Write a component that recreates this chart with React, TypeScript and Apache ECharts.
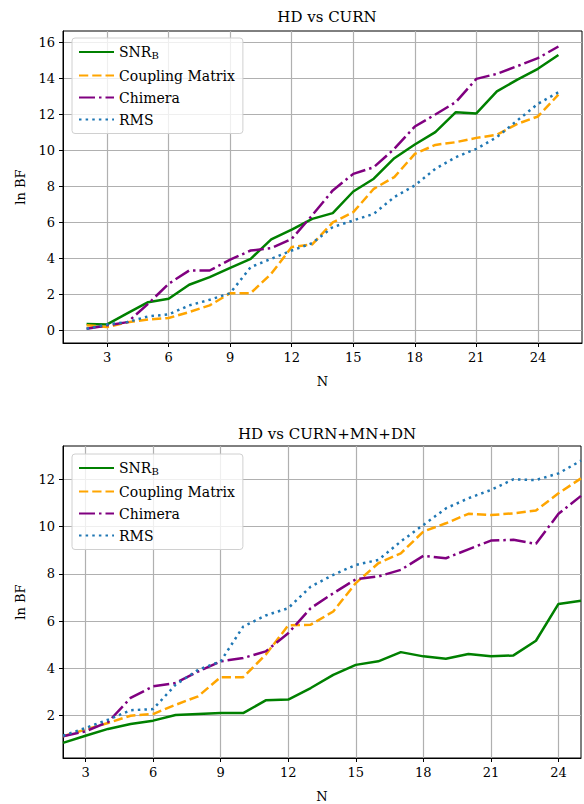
import React, { useEffect, useRef } from "react";
import * as echarts from "echarts";

const N = [2, 3, 4, 5, 6, 7, 8, 9, 10, 11, 12, 13, 14, 15, 16, 17, 18, 19, 20, 21, 22, 23, 24, 25];
const xTicks = [3, 6, 9, 12, 15, 18, 21, 24];
const yTicksTop = [0, 2, 4, 6, 8, 10, 12, 14, 16];
const yTicksBot = [2, 4, 6, 8, 10, 12];

const titleTop = "HD vs CURN";
const titleBot = "HD vs CURN+MN+DN";
const seriesNames = ["SNR_B", "Coupling Matrix", "Chimera", "RMS"];

const snrTop = [0.35, 0.33, 0.96, 1.57, 1.76, 2.54, 2.96, 3.48, 3.98, 5.06, 5.6, 6.2, 6.52, 7.72, 8.43, 9.57, 10.33, 11.02, 12.13, 12.06, 13.28, 13.94, 14.54, 15.31];
const couplingTop = [0.28, 0.19, 0.45, 0.61, 0.69, 1.02, 1.39, 2.07, 2.07, 3.15, 4.63, 4.78, 6.0, 6.57, 7.87, 8.52, 9.81, 10.31, 10.46, 10.7, 10.87, 11.48, 11.89, 13.1];
const chimeraTop = [0.09, 0.28, 0.46, 1.48, 2.59, 3.33, 3.33, 3.93, 4.44, 4.57, 5.09, 6.4, 7.78, 8.7, 9.07, 10.09, 11.33, 12.0, 12.69, 13.98, 14.26, 14.69, 15.13, 15.78];
const rmsTop = [0.09, 0.33, 0.46, 0.78, 0.89, 1.39, 1.7, 2.07, 3.52, 3.98, 4.44, 4.85, 5.74, 6.11, 6.48, 7.41, 8.06, 8.98, 9.63, 10.09, 10.74, 11.67, 12.59, 13.24];

const snrBot = [0.85, 1.15, 1.44, 1.65, 1.79, 2.03, 2.07, 2.11, 2.11, 2.65, 2.68, 3.17, 3.73, 4.15, 4.3, 4.69, 4.51, 4.41, 4.61, 4.51, 4.55, 5.17, 6.73, 6.86];
const couplingBot = [1.13, 1.41, 1.69, 2.0, 2.07, 2.46, 2.82, 3.63, 3.63, 4.58, 5.82, 5.85, 6.41, 7.61, 8.45, 8.87, 9.79, 10.14, 10.54, 10.49, 10.56, 10.68, 11.41, 12.04];
const chimeraBot = [1.13, 1.34, 1.73, 2.75, 3.24, 3.38, 3.87, 4.3, 4.44, 4.72, 5.49, 6.55, 7.18, 7.77, 7.89, 8.17, 8.76, 8.66, 9.04, 9.41, 9.44, 9.27, 10.54, 11.3];
const rmsBot = [1.15, 1.48, 1.83, 2.23, 2.28, 3.31, 3.94, 4.3, 5.77, 6.24, 6.55, 7.46, 7.96, 8.38, 8.59, 9.37, 10.07, 10.77, 11.2, 11.55, 12.0, 11.97, 12.25, 12.79];

const FONT = "DejaVu Serif";
const LW = 2.5;
const styles = [
  { color: "#008000", type: "solid" as any },
  { color: "#FFA500", type: [3.7 * LW, 1.6 * LW] },
  { color: "#800080", type: [6.4 * LW, 1.6 * LW, 1 * LW, 1.6 * LW] },
  { color: "#1f77b4", type: [1 * LW, 1.65 * LW] },
];

function makeSeries(values: number[][], gridIdx: number) {
  return values.map((vals, i) => ({
    name: seriesNames[i],
    type: "line",
    xAxisIndex: gridIdx,
    yAxisIndex: gridIdx,
    symbol: "none",
    z: 2 + i * 0.1,
    data: N.map((n, k) => [n, vals[k]]),
    lineStyle: { color: styles[i].color, width: LW, type: styles[i].type, cap: "butt" },
    itemStyle: { color: styles[i].color },
  }));
}

const labelStyle = { fontFamily: FONT, fontSize: 13, color: "#000" };

function xAxis(gridIdx: number, min: number, max: number) {
  return {
    type: "value",
    gridIndex: gridIdx,
    min,
    max,
    name: "N",
    nameLocation: "middle",
    nameGap: 32,
    nameTextStyle: { ...labelStyle },
    axisLine: { show: true, onZero: false, lineStyle: { color: "#000", width: 1 } },
    axisTick: { show: true, customValues: xTicks, length: 4, lineStyle: { color: "#000" } },
    axisLabel: { customValues: xTicks, ...labelStyle, margin: 8 },
    splitLine: { show: true, lineStyle: { color: "#b0b0b0", width: 1.2 } },
  };
}

function yAxis(gridIdx: number, min: number, max: number, ticks: number[]) {
  return {
    type: "value",
    gridIndex: gridIdx,
    min,
    max,
    name: "ln BF",
    nameLocation: "middle",
    nameGap: 36,
    nameRotate: 90,
    nameTextStyle: { ...labelStyle },
    axisLine: { show: true, onZero: false, lineStyle: { color: "#000", width: 1 } },
    axisTick: { show: true, customValues: ticks, length: 4, lineStyle: { color: "#000" } },
    axisLabel: { customValues: ticks, ...labelStyle, margin: 8 },
    splitLine: { show: true, lineStyle: { color: "#b0b0b0", width: 1.2 } },
  };
}

function legend(top: number) {
  return {
    orient: "vertical",
    left: 72,
    top,
    data: seriesNames,
    itemWidth: 35,
    itemHeight: 12,
    itemGap: 8,
    padding: [7, 8, 7, 6],
    borderColor: "#d0d0d0",
    borderWidth: 1,
    borderRadius: 3,
    backgroundColor: "rgba(255,255,255,0.8)",
    itemStyle: { opacity: 0 },
    formatter: (name: string) => (name === "SNR_B" ? "SNR{sub|B}" : name),
    textStyle: {
      fontFamily: FONT,
      fontSize: 14,
      color: "#000",
      rich: { sub: { fontFamily: FONT, fontSize: 10, color: "#000", padding: [7, 0, 0, 0] } },
    },
  };
}

export default function App() {
  const ref = useRef<HTMLDivElement>(null);
  useEffect(() => {
    const chart = echarts.init(ref.current!, null, { renderer: "svg" });
    chart.setOption({
      animation: false,
      backgroundColor: "#fff",
      textStyle: { fontFamily: FONT, color: "#000" },
      title: [
        { text: titleTop, left: 322, top: 4, textAlign: "center", textStyle: { fontFamily: FONT, fontSize: 15, fontWeight: "normal", color: "#000" } },
        { text: titleBot, left: 322, top: 421, textAlign: "center", textStyle: { fontFamily: FONT, fontSize: 15, fontWeight: "normal", color: "#000" } },
      ],
      grid: [
        { left: 63, top: 31, width: 519, height: 312, show: true, borderColor: "#000", borderWidth: 1, backgroundColor: "transparent" },
        { left: 63, top: 446, width: 518, height: 312, show: true, borderColor: "#000", borderWidth: 1, backgroundColor: "transparent" },
      ],
      xAxis: [xAxis(0, 0.85, 26.15), xAxis(1, 2, 25)],
      yAxis: [yAxis(0, -0.7, 16.64, yTicksTop), yAxis(1, 0.21, 13.41, yTicksBot)],
      legend: [legend(38), legend(454)],
      series: [
        ...makeSeries([snrTop, couplingTop, chimeraTop, rmsTop], 0),
        ...makeSeries([snrBot, couplingBot, chimeraBot, rmsBot], 1),
      ],
    });
    return () => chart.dispose();
  }, []);
  return <div ref={ref} style={{ position: "fixed", left: 0, top: 0, width: 584, height: 804 }} />;
}
